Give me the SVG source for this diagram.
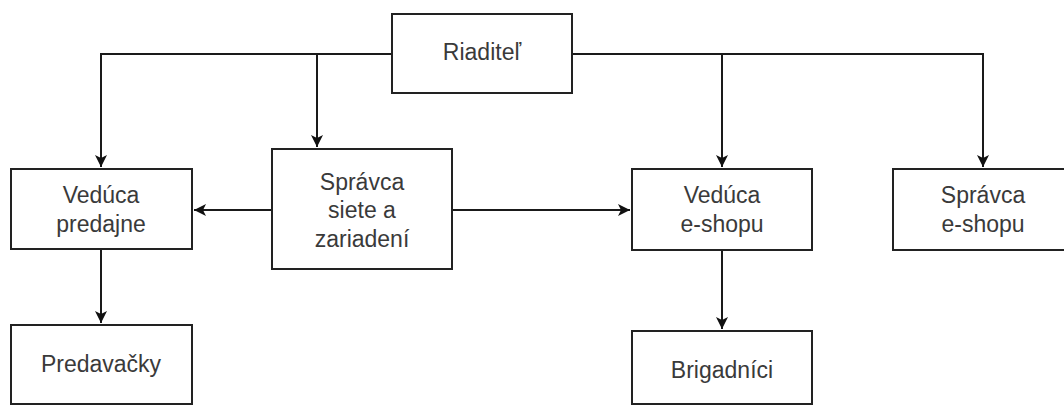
<svg xmlns="http://www.w3.org/2000/svg" width="1064" height="406" viewBox="0 0 1064 406">
<style>
.box{fill:#fff;stroke:#222;stroke-width:2}
.t{font-family:"Liberation Sans",Arial,sans-serif;font-size:23px;fill:#3a3a3a;text-anchor:middle}
.c{fill:none;stroke:#1a1a1a;stroke-width:2}
</style>
<defs>
<marker id="ah" markerUnits="userSpaceOnUse" markerWidth="14" markerHeight="14" viewBox="0 0 14 14" refX="13" refY="7" orient="auto">
<path d="M1,1 L13,7 L1,13 L4,7 Z" fill="#111"/>
</marker>
</defs>
<rect width="1064" height="406" fill="#fff"/>
<g id="connectors">
<path class="c" d="M392,54 H101 V167" marker-end="url(#ah)"/>
<path class="c" d="M317,54 V147" marker-end="url(#ah)"/>
<path class="c" d="M572,54 H983 V167" marker-end="url(#ah)"/>
<path class="c" d="M722,54 V167" marker-end="url(#ah)"/>
<path class="c" d="M272,210 H194" marker-end="url(#ah)"/>
<path class="c" d="M452,210 H630" marker-end="url(#ah)"/>
<path class="c" d="M101,249 V323" marker-end="url(#ah)"/>
<path class="c" d="M722,250 V329" marker-end="url(#ah)"/>
</g>
<g id="riaditel"><rect class="box" x="392" y="14" width="180" height="79"/><text class="t" x="482" y="60">Riaditeľ</text></g>
<g id="veduca-predajne"><rect class="box" x="11" y="169" width="181" height="80"/><text class="t" x="101" y="203">Vedúca</text><text class="t" x="101" y="232">predajne</text></g>
<g id="spravca-siete"><rect class="box" x="272" y="149" width="180" height="120"/><text class="t" x="362" y="190">Správca</text><text class="t" x="362" y="218">siete a</text><text class="t" x="362" y="247">zariadení</text></g>
<g id="veduca-eshopu"><rect class="box" x="632" y="169" width="180" height="81"/><text class="t" x="722" y="203">Vedúca</text><text class="t" x="722" y="232">e-shopu</text></g>
<g id="spravca-eshopu"><rect class="box" x="893" y="169" width="180" height="81"/><text class="t" x="983" y="203">Správca</text><text class="t" x="983" y="232">e-shopu</text></g>
<g id="predavacky"><rect class="box" x="11" y="325" width="181" height="79"/><text class="t" x="101" y="372">Predavačky</text></g>
<g id="brigadnici"><rect class="box" x="632" y="331" width="180" height="73"/><text class="t" x="722" y="378">Brigadníci</text></g>
</svg>
